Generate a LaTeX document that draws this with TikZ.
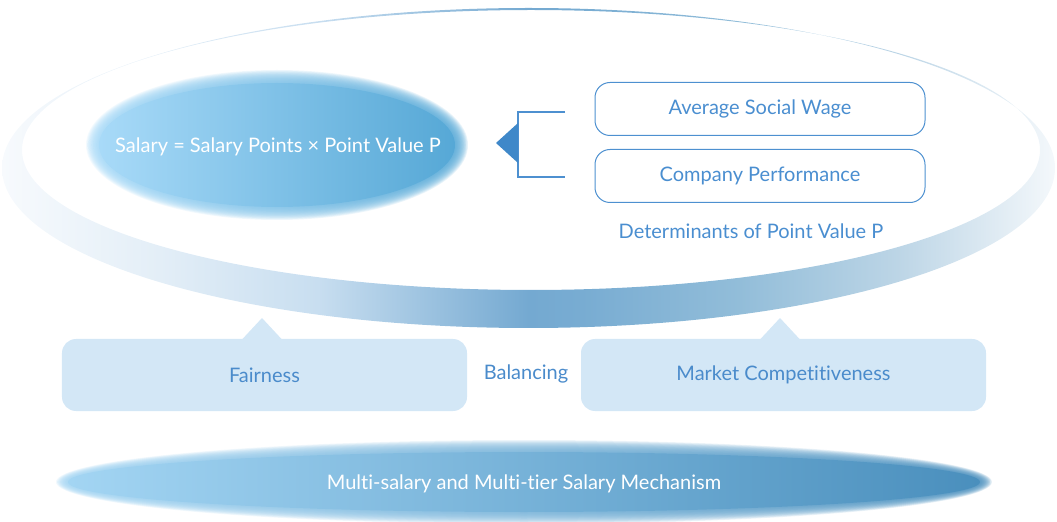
\documentclass[tikz,border=0pt]{standalone}
\usepackage{fontspec}
\setmainfont{Lato}[Ligatures={NoCommon,NoRequired,NoContextual}]
\definecolor{txtblue}{HTML}{4A8ED0}
\definecolor{lineblue}{HTML}{4D90D0}
\definecolor{triblue}{HTML}{3F88C9}
\definecolor{boxfill}{HTML}{D3E7F6}
\definecolor{boxtext}{HTML}{4A8BCB}
\definecolor{rA}{HTML}{F7FAFD}
\definecolor{rB}{HTML}{E3EEF7}
\definecolor{rC}{HTML}{C8DEF0}
\definecolor{rD}{HTML}{74A9D1}
\definecolor{rE}{HTML}{78ACD2}
\definecolor{rF}{HTML}{92BDD9}
\definecolor{rG}{HTML}{BCD5E6}
\definecolor{rH}{HTML}{F4F8FB}
\definecolor{elA}{HTML}{A8DAF8}
\definecolor{elB}{HTML}{56A8D6}
\definecolor{btA}{HTML}{A3D5F3}
\definecolor{btB}{HTML}{4A8FBD}
\pgfdeclarehorizontalshading{ringshade}{100bp}{color(0bp)=(rA); color(25bp)=(rA); color(32.5bp)=(rB); color(40bp)=(rC); color(50bp)=(rD); color(52.5bp)=(rE); color(60bp)=(rF); color(67.5bp)=(rG); color(75bp)=(rH); color(100bp)=(rH)}
\newcommand{\fuzzyell}[6]{%
  \foreach \i in {1,...,16}{%
    \shade[left color=#5, right color=#6, opacity=0.12] (#1) ellipse ({#2+#4*(17-\i)/16} and {#3+#4*(17-\i)/16});
  }%
  \shade[left color=#5, right color=#6] (#1) ellipse (#2 and #3);
}
\tikzset{
  txt/.style={font=\fontsize{20bp}{24bp}\selectfont},
  topbox/.style={txt, draw=lineblue, line width=1bp, rounded corners=15bp, minimum width=330bp, minimum height=53bp, text=txtblue, inner sep=0pt},
  lowbox/.style={txt, fill=boxfill, rounded corners=14bp, minimum width=405bp, minimum height=72bp, text=boxtext, inner sep=0pt},
  bracket/.style={draw=lineblue, line width=1.2bp},
  whitetxt/.style={txt, text=white},
}
\begin{document}
\begin{tikzpicture}[x=1bp, y=-1bp]
\useasboundingbox (0,0) rectangle (1057,522);
% ring
\shade[even odd rule, shading=ringshade] (528.5,168) ellipse (526.5 and 160) (531,150) ellipse (509 and 140);
% left ellipse
\coordinate (lc) at (277,145);
\fuzzyell{lc}{178}{62}{13}{elA}{elB}
\node[whitetxt] (salary) at (278,147) {Salary = Salary Points × Point Value P};
% bracket and triangle
\coordinate (bt) at (565,112);
\coordinate (bb) at (565,177);
\coordinate (vt) at (518,112);
\coordinate (vb) at (518,177);
\draw[bracket] (bt) -- (vt) -- (vb) -- (bb);
\fill[triblue] (518,123) -- (496,143) -- (518,163) -- cycle;
% determinant boxes
\node[topbox] (asw) at (760,109) {Average Social Wage};
\node[topbox] (cp) at (760,176) {Company Performance};
\node[txt, text=txtblue] (det) at (751,231) {Determinants of Point Value P};
% lower boxes
\fill[boxfill] (242,339.5) -- (262,318) -- (282,339.5) -- cycle;
\fill[boxfill] (760,339.5) -- (780,318) -- (800,339.5) -- cycle;
\node[lowbox] (fair) at (264.5,375) {Fairness};
\node[lowbox] (mkt) at (783.5,375) {Market Competitiveness};
\node[txt, text=boxtext] (bal) at (526,374) {Balancing};
% bottom ellipse
\coordinate (bc) at (524,482);
\fuzzyell{bc}{456}{30}{12}{btA}{btB}
\node[whitetxt] (mech) at (524,484) {Multi-salary and Multi-tier Salary Mechanism};
\end{tikzpicture}
\end{document}
